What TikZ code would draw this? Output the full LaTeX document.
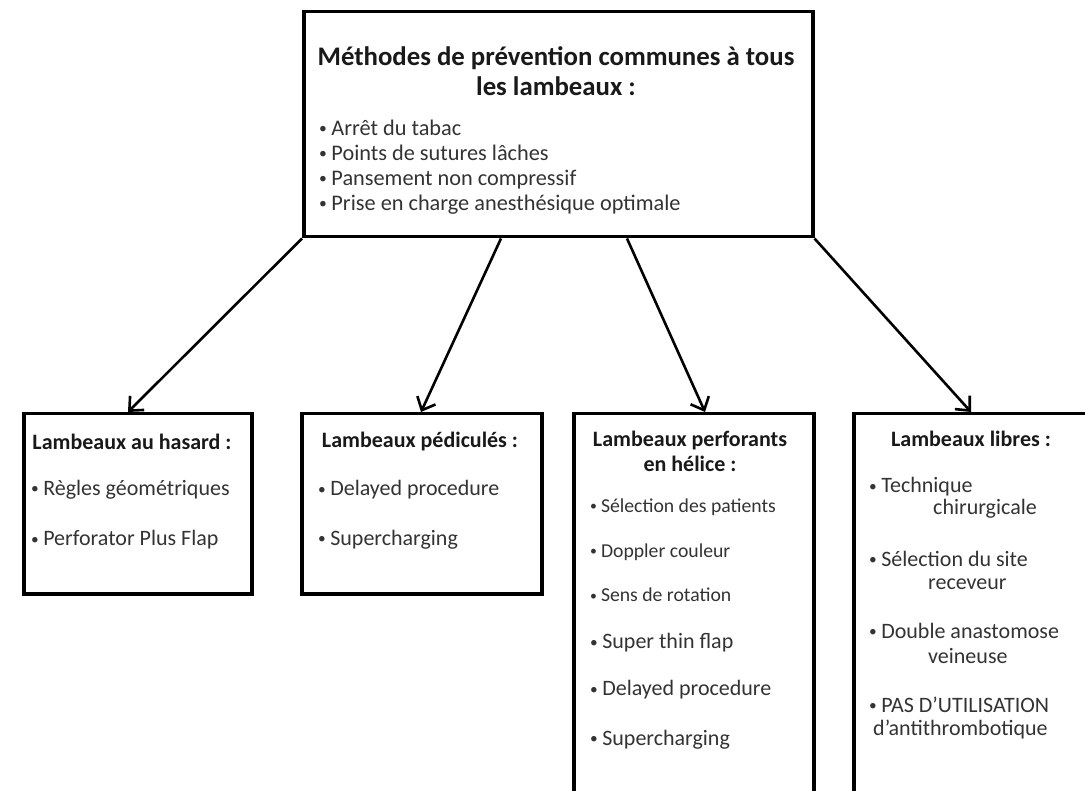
\documentclass[tikz,border=0pt]{standalone}
\usepackage{fontspec}
\usepackage{graphicx}
\setmainfont{Carlito}
\usetikzlibrary{arrows.meta,calc}
\tikzset{
  boxnode/.style={draw, line width=3.5pt, anchor=north west, inner sep=0pt},
  arr/.style={line width=2.6pt, -{Straight Barb[length=11pt,width=20pt]}},
  ttl/.style={font=\bfseries\fontsize{22}{25}\selectfont, align=center, text=black!90, inner sep=0pt},
  itm/.style={font=\fontsize{22}{25}\selectfont, anchor=west, text=black!80, inner sep=0pt},
  sitm/.style={font=\fontsize{19.7}{22}\selectfont, anchor=west, text=black!80, inner sep=0pt}
}
\newcommand{\bul}{\makebox[0.55em][l]{\raisebox{0.08em}{\scalebox{0.7}{\textbullet}}}}
\begin{document}
\begin{tikzpicture}[x=1pt,y=-1pt]
\useasboundingbox (0,0) rectangle (1085,791);
\clip (0,0) rectangle (1085,791);
% boxes
\node[boxnode, minimum width=509pt, minimum height=225pt] (top) at (302,10) {};
\node[boxnode, minimum width=228pt, minimum height=180pt] (b1) at (22,412) {};
\node[boxnode, minimum width=240pt, minimum height=180pt] (b2) at (300,412) {};
\node[boxnode, minimum width=240pt, minimum height=420pt] (b3) at (572,412) {};
\node[boxnode, minimum width=260pt, minimum height=420pt] (b4) at (852,412) {};
% arrows
\draw[arr] (top.south west) -- ([xshift=106pt]b1.north west);
\draw[arr] ([xshift=199pt]top.south west) -- ([xshift=121pt]b2.north west);
\draw[arr] ([xshift=325pt]top.south west) -- ([xshift=133pt]b3.north west);
\draw[arr] (top.south east) -- ([xshift=119pt]b4.north west);
% top text
\node[ttl, font=\bfseries\fontsize{26.8}{30}\selectfont] (toptitle) at (556,71) {Méthodes de prévention communes à tous\\les lambeaux :};
\node[font=\fontsize{22.3}{25}\selectfont, align=left, anchor=north west, text=black!80, inner sep=0pt] (toplist) at (319,120)
  {\bul Arrêt du tabac\\\bul Points de sutures lâches\\\bul Pansement non compressif\\\bul Prise en charge anesthésique optimale};
% box 1
\node[ttl] (t1) at (132,442) {Lambeaux au hasard :};
\node[itm] (i11) at (31,490) {\bul Règles géométriques};
\node[itm] (i12) at (31,540) {\bul Perforator Plus Flap};
% box 2
\node[ttl] (t2) at (420,442) {Lambeaux pédiculés :};
\node[itm] (i21) at (318,490) {\bul Delayed procedure};
\node[itm] (i22) at (318,540) {\bul Supercharging};
% box 3
\node[ttl] (t3) at (690,451) {Lambeaux perforants\\en hélice :};
\node[sitm] (i31) at (590,507) {\bul Sélection des patients};
\node[sitm] (i32) at (590,552) {\bul Doppler couleur};
\node[sitm] (i33) at (590,595) {\bul Sens de rotation};
\node[itm] (i34) at (590,643) {\bul Super thin flap};
\node[itm] (i35) at (590,690) {\bul Delayed procedure};
\node[itm] (i36) at (590,740) {\bul Supercharging};
% box 4
\node[ttl] (t4) at (971,439) {Lambeaux libres :};
\node[itm] (i41) at (869,487) {\bul Technique};
\node[itm] (i41b) at (933,509) {chirurgicale};
\node[itm] (i42) at (869,559) {\bul Sélection du site};
\node[itm] (i42b) at (928,584) {receveur};
\node[itm] (i43) at (869,631) {\bul Double anastomose};
\node[itm] (i43b) at (928,656) {veineuse};
\node[itm] (i44) at (869,705) {\bul PAS D’UTILISATION};
\node[itm] (i44b) at (873,730) {d’antithrombotique};
\end{tikzpicture}
\end{document}
